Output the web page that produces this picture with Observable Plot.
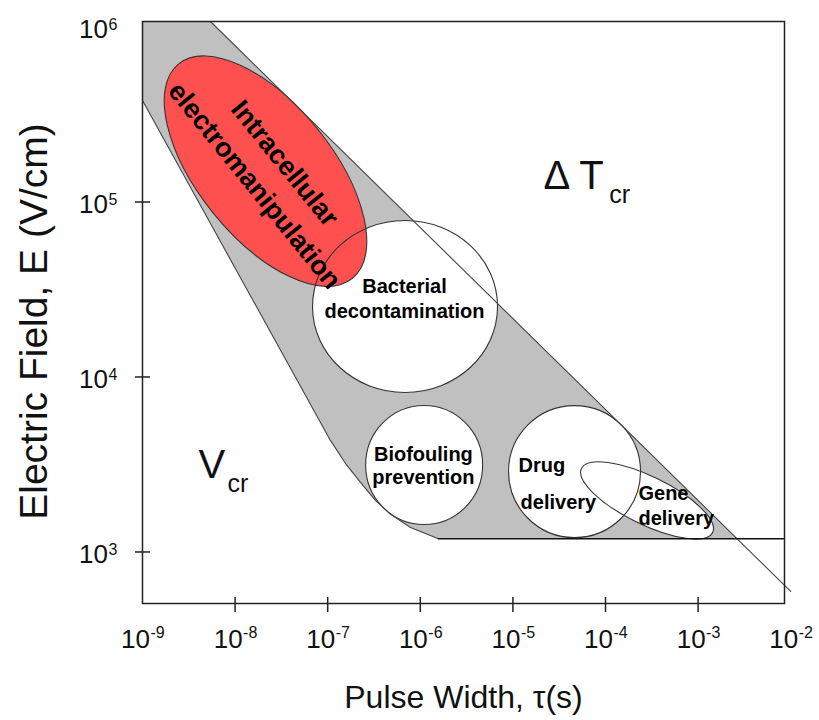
<!DOCTYPE html>
<html>
<head>
<meta charset="utf-8">
<script src="https://cdn.jsdelivr.net/npm/d3@7"></script>
<script src="https://cdn.jsdelivr.net/npm/@observablehq/plot@0.6"></script>
<style>
  body { margin: 0; background: #fff; }
  #chart svg { display: block; }
</style>
</head>
<body>
<div id="chart"></div>
<script>
// ---------------- data ----------------
const xTickValues = [1e-9, 1e-8, 1e-7, 1e-6, 1e-5, 1e-4, 1e-3, 1e-2];
const xTickExponents = ["-9", "-8", "-7", "-6", "-5", "-4", "-3", "-2"];
const xTickMarks = [1e-8, 1e-7, 1e-6, 1e-5, 1e-4, 1e-3];
const yTickValues = [1e3, 1e4, 1e5, 1e6];
const yTickExponents = ["3", "4", "5", "6"];
const yTickMarks = [1e3, 1e4, 1e5];

const xTitle = "Pulse Width, τ(s)";
const yTitle = "Electric Field, E (V/cm)";

// axis extents
const tauMin = 1e-9;
const tauMax = 8.57e-3;
const eMin = 507.6;
const eTop = 1.075e6;

// upper limit line (thermal, ΔTcr)
const upperTau = [5.42e-9, 1.0e-2];
const upperE = [1.075e6, 5.95e2];
// lower limit curve (Vcr)
const lowerTau = [1e-9, 1.07e-7, 1.56e-7, 2.26e-7, 3.28e-7, 4.77e-7, 7.84e-7, 1.57e-6];
const lowerE = [3.80e5, 4.34e3, 3.20e3, 2.50e3, 1.97e3, 1.64e3, 1.38e3, 1.19e3];
// horizontal floor
const floorE = 1.19e3;
const cornerTau = 2.66e-3;

// application regions (centres)
const regionNames = ["Intracellular electromanipulation", "Bacterial decontamination", "Biofouling prevention", "Drug delivery", "Gene delivery"];
const regionTau = [2.13e-8, 6.84e-7, 1.10e-6, 4.63e-5, 2.81e-4];
const regionE = [1.50e5, 2.53e4, 3.14e3, 2.88e3, 1.97e3];

// labels
const centredText = ["Bacterial", "decontamination", "Biofouling", "prevention"];
const centredTau = [6.75e-7, 6.75e-7, 1.08e-6, 1.08e-6];
const centredE = [3.00e4, 2.16e4, 3.33e3, 2.46e3];
const leftText = ["Drug", "delivery", "Gene", "delivery"];
const leftTau = [1.15e-5, 1.21e-5, 2.27e-4, 2.27e-4];
const leftE = [2.85e3, 1.75e3, 1.97e3, 1.42e3];
const redText = ["Intracellular", "electromanipulation"];
const redTau = [3.42e-8, 1.62e-8];
const redE = [1.66e5, 1.24e5];
const zoneText = ["Δ T", "V"];
const zoneTau = [2.14e-5, 4.03e-9];
const zoneE = [1.19e5, 2.63e3];
const zoneSub = ["cr", "cr"];
const subTau = [1.10e-4, 8.28e-9];
const subE = [9.93e4, 2.19e3];

// ---------------- shape styling (pixel geometry) ----------------
const shapeGeom = {
  "Intracellular electromanipulation": {rx: 138, ry: 67, angle: 51, fill: "#ff5050"},
  "Bacterial decontamination": {rx: 92.5, ry: 86, angle: 0, fill: "#ffffff"},
  "Biofouling prevention": {rx: 58.5, ry: 59.5, angle: 0, fill: "#ffffff"},
  "Drug delivery": {rx: 66, ry: 66, angle: 0, fill: "#ffffff"},
  "Gene delivery": {rx: 73, ry: 24, angle: 26, fill: "#ffffff"}
};

function ellipseSymbol(aspect, angleDeg) {
  const a = angleDeg * Math.PI / 180, c = Math.cos(a), s = Math.sin(a), k = 0.5522847498;
  return {
    draw(ctx, size) {
      const rx = Math.sqrt(size / Math.PI), ry = rx * aspect;
      const P = ([x, y]) => [x * c - y * s, x * s + y * c];
      const pts = [[rx, 0], [rx, ry * k], [rx * k, ry], [0, ry], [-rx * k, ry], [-rx, ry * k], [-rx, 0],
        [-rx, -ry * k], [-rx * k, -ry], [0, -ry], [rx * k, -ry], [rx, -ry * k], [rx, 0]].map(P);
      ctx.moveTo(pts[0][0], pts[0][1]);
      for (let i = 1; i < pts.length; i += 3) {
        ctx.bezierCurveTo(pts[i][0], pts[i][1], pts[i + 1][0], pts[i + 1][1], pts[i + 2][0], pts[i + 2][1]);
      }
      ctx.closePath();
    }
  };
}

// ---------------- build tables ----------------
const zip = (t, e, extra = {}) => t.map((tau, i) => ({tau, e: e[i], ...Object.fromEntries(Object.entries(extra).map(([k, v]) => [k, v[i]]))}));

const lower = zip(lowerTau, lowerE);
const upper = zip(upperTau, upperE);
const band = [
  {tau: tauMin, e: eTop},
  {tau: upperTau[0], e: upperE[0]},
  {tau: cornerTau, e: floorE},
  ...lower.slice().reverse()
];
const floorLine = [{tau: lowerTau[lowerTau.length - 1], e: floorE}, {tau: tauMax, e: floorE}];
const regions = zip(regionTau, regionE, {name: regionNames});

const regionMarks = (filled) => regions.map((d) => {
  const g = shapeGeom[d.name];
  return Plot.dot([d], {
    x: "tau", y: "e", r: g.rx,
    symbol: ellipseSymbol(g.ry / g.rx, g.angle),
    fill: filled ? g.fill : "none",
    stroke: filled ? "none" : "#333",
    strokeWidth: 1.1
  });
});

const font = "Liberation Sans, Arial, Helvetica, sans-serif";

const svg = Plot.plot({
  width: 819,
  height: 720,
  marginTop: 21,
  marginRight: 35,
  marginBottom: 117,
  marginLeft: 142,
  style: {fontFamily: font, background: "#fff", color: "#111", overflow: "visible"},
  x: {type: "log", domain: [tauMin, tauMax], axis: null},
  y: {type: "log", domain: [eMin, eTop], axis: null},
  marks: [
    // shaded operating band
    Plot.line(band, {x: "tau", y: "e", fill: "#c0c0c0", stroke: "none"}),
    // white regions then red region fill
    ...regionMarks(true).slice(1),
    regionMarks(true)[0],
    // outlines
    ...regionMarks(false),
    // boundaries
    Plot.line(lower, {x: "tau", y: "e", stroke: "#444", strokeWidth: 1.1}),
    Plot.line(upper, {x: "tau", y: "e", stroke: "#444", strokeWidth: 1.1}),
    Plot.line(floorLine, {x: "tau", y: "e", stroke: "#111", strokeWidth: 1.4}),
    // frame & ticks
    Plot.frame({stroke: "#222", strokeWidth: 1.5}),
    Plot.tickY(yTickMarks, {y: (d) => d, insetLeft: -7, insetRight: 634, stroke: "#222", strokeWidth: 1.5}),
    Plot.tickX(xTickMarks, {x: (d) => d, insetTop: 576, insetBottom: -9, stroke: "#222", strokeWidth: 1.5}),
    // tick labels
    Plot.text(xTickValues, {x: (d) => d, text: () => "10", frameAnchor: "bottom", textAnchor: "end", lineAnchor: "middle",
      dx: 7.5, dy: 36.5, fontSize: 26, fill: "#111", ariaLabel: "xtick10"}),
    Plot.text(xTickValues, {x: (d) => d, text: (d, i) => xTickExponents[i], frameAnchor: "bottom", textAnchor: "start", lineAnchor: "middle",
      dx: 8, dy: 29, fontSize: 16, fill: "#111", ariaLabel: "xtickexp"}),
    Plot.text(yTickValues, {y: (d) => d, text: () => "10", frameAnchor: "left", textAnchor: "end", lineAnchor: "middle",
      dx: -34.5, dy: 2.5, fontSize: 26, fill: "#111", ariaLabel: "ytick10"}),
    Plot.text(yTickValues, {y: (d) => d, text: (d, i) => yTickExponents[i], frameAnchor: "left", textAnchor: "start", lineAnchor: "middle",
      dx: -34, dy: -2.5, fontSize: 16, fill: "#111", ariaLabel: "ytickexp"}),
    // axis titles
    Plot.text([xTitle], {text: (d) => d, frameAnchor: "bottom", textAnchor: "middle", lineAnchor: "middle",
      dy: 94, fontSize: 32, fill: "#111", ariaLabel: "xtitle"}),
    Plot.text([yTitle], {text: (d) => d, frameAnchor: "left", rotate: -90, textAnchor: "middle", lineAnchor: "middle",
      dx: -108, dy: 9, fontSize: 39, fill: "#111", ariaLabel: "ytitle"}),
    // region labels
    Plot.text(zip(centredTau, centredE, {t: centredText}), {x: "tau", y: "e", text: "t", textAnchor: "middle", lineAnchor: "bottom",
      fontSize: 20, fontWeight: "bold", fill: "#000"}),
    Plot.text(zip(leftTau, leftE, {t: leftText}), {x: "tau", y: "e", text: "t", textAnchor: "start", lineAnchor: "bottom",
      fontSize: 20, fontWeight: "bold", fill: "#000"}),
    Plot.text(zip(redTau, redE, {t: redText}), {x: "tau", y: "e", text: "t", rotate: 51, textAnchor: "middle", lineAnchor: "middle",
      fontSize: 27, fontWeight: "bold", fill: "#000"}),
    // zone labels
    Plot.text(zip(zoneTau, zoneE, {t: zoneText}), {x: "tau", y: "e", text: "t", textAnchor: "start", lineAnchor: "bottom",
      fontSize: 40, fill: "#111"}),
    Plot.text(zip(subTau, subE, {t: zoneSub}), {x: "tau", y: "e", text: "t", textAnchor: "start", lineAnchor: "bottom",
      fontSize: 25, fill: "#111"})
  ]
});

function stretchText(root, label, sx, sy) {
  d3.select(root).selectAll(`g[aria-label="${label}"] text`).each(function () {
    const t = this.getAttribute("transform") || "";
    const x = parseFloat(this.getAttribute("x")) || 0;
    this.setAttribute("transform", `${t} translate(${x},0) scale(${sx},${sy}) translate(${-x},0)`);
  });
}
stretchText(svg, "xtitle", 1.3, 1);
stretchText(svg, "ytitle", 1, 1.2);
["xtick10", "xtickexp", "ytick10", "ytickexp"].forEach((l) => stretchText(svg, l, 1.15, 1));

document.getElementById("chart").appendChild(svg);
</script>
</body>
</html>
